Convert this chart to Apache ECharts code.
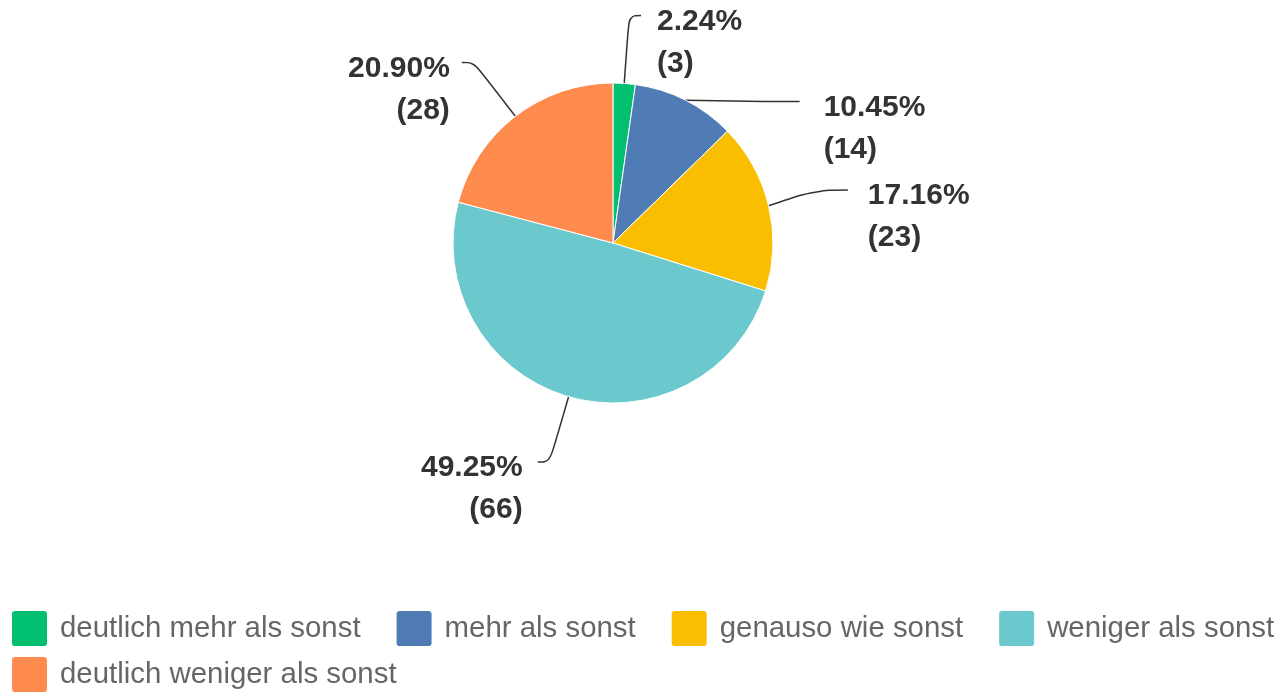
<!DOCTYPE html>
<html>
<head>
<meta charset="utf-8">
<script src="https://cdn.jsdelivr.net/npm/echarts@6/dist/echarts.min.js"></script>
<style>
  html, body { margin: 0; padding: 0; background: #fff; overflow: hidden; }
  /* extra room above so the top label is not clamped at the canvas edge */
  #chart { width: 1280px; height: 794px; margin-top: -100px; }
</style>
</head>
<body>
<div id="chart"></div>
<script>
  // Antworten und Anzahl
  var categories = ['deutlich mehr als sonst', 'mehr als sonst', 'genauso wie sonst', 'weniger als sonst', 'deutlich weniger als sonst']
  var counts = [3, 14, 23, 66, 28]
  var percents = ['2.24%', '10.45%', '17.16%', '49.25%', '20.90%']
  var colors = ['#00bf6f', '#507cb6', '#f9be00', '#6bc8cd', '#ff8b4f']

  var chart = echarts.init(document.getElementById('chart'))

  // right side labels sit a bit further out than echarts puts them
  var lineLen2 = [12, 31, 33, 12, 12]
  var textGap = [16, 24, 20, 15, 12]

  var pieData = categories.map(function (name, i) {
    return {
      name: name,
      value: counts[i],
      pct: percents[i],
      label: { distanceToLabelLine: textGap[i] },
      labelLine: { length2: lineLen2[i] }
    }
  })

  var legendBase = {
    left: 10,
    padding: 0,
    itemWidth: 37,
    itemHeight: 37,
    itemGap: 34,
    icon: 'path://M4,0H32A4,4 0 0 1 36,4V32A4,4 0 0 1 32,36H4A4,4 0 0 1 0,32V4A4,4 0 0 1 4,0Z',
    textStyle: {
      fontFamily: 'Liberation Sans, Arial, sans-serif',
      fontSize: 29.4,
      color: '#666',
      padding: [0, 0, 0, 7]
    }
  }

  chart.setOption({
    animation: false,
    color: colors,
    legend: [
      Object.assign({}, legendBase, { top: 709, data: categories.slice(0, 4) }),
      Object.assign({}, legendBase, { top: 755, data: categories.slice(4) })
    ],
    series: [{
      type: 'pie',
      center: [613, 343],
      radius: 160,
      startAngle: 90,
      clockwise: true,
      itemStyle: { borderColor: '#fff', borderWidth: 1 },
      label: {
        show: true,
        position: 'outside',
        fontFamily: 'Liberation Sans, Arial, sans-serif',
        fontSize: 30,
        fontWeight: 'bold',
        color: '#333',
        lineHeight: 42,
        formatter: function (p) {
          return p.data.pct + '\n(' + p.value + ')'
        }
      },
      labelLine: {
        show: true,
        length: 68,
        smooth: 0.4,
        lineStyle: { color: '#333', width: 1.5 }
      },
      labelLayout: { dy: 27 },
      emphasis: { disabled: true },
      data: pieData
    }]
  })
</script>
</body>
</html>
